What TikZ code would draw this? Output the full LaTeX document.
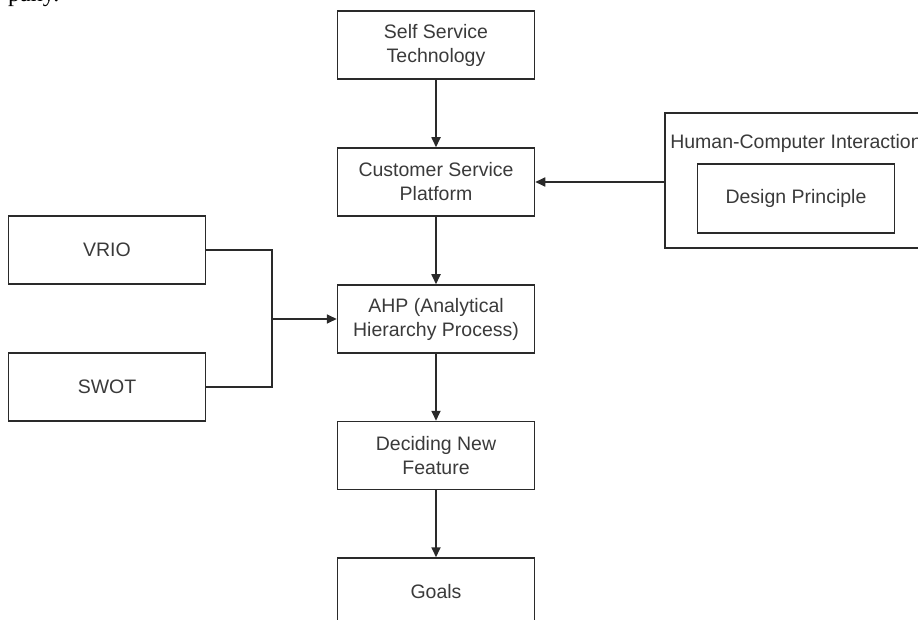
\documentclass[tikz,border=0pt]{standalone}
\usepackage{fontspec}
\setmainfont{Liberation Sans}
\newfontfamily\fragfont{Liberation Serif}
\usetikzlibrary{arrows.meta}
\definecolor{linegray}{HTML}{2A2A2A}
\definecolor{textgray}{HTML}{3A3A3A}
\begin{document}
\begin{tikzpicture}[x=1pt,y=-1pt,
  box/.style={draw=linegray, line width=1.5pt, minimum width=197pt, minimum height=68pt,
    inner sep=0pt, align=center, font=\fontsize{19.5}{24}\selectfont, text=textgray},
  conn/.style={draw=linegray, line width=1.7pt},
  arr/.style={conn, -{Triangle[length=10pt,width=9pt]}}]
\path[use as bounding box] (0,0) rectangle (918,620);
\clip (0,0) rectangle (918,620);
\node[anchor=base west, inner sep=0pt, font=\fragfont\fontsize{24}{28}\selectfont] (frag) at (8,2) {pany.};
\node[box] (sst) at (436,45) {Self Service\\Technology};
\node[box] (csp) at (436,182) {Customer Service\\Platform};
\node[box] (ahp) at (436,319) {AHP (Analytical\\Hierarchy Process)};
\node[box] (dnf) at (436,455.5) {Deciding New\\Feature};
\node[box] (goals) at (436,592) {Goals};
\node[box] (vrio) at (107,250) {VRIO};
\node[box] (swot) at (107,387) {SWOT};
\node[draw=linegray, line width=1.5pt, minimum width=262pt, minimum height=135pt, inner sep=0pt] (hci) at (796,180.5) {};
\node[inner sep=0pt, font=\fontsize{19.5}{24}\selectfont, text=textgray] (hcilabel) at (796,143) {Human-Computer Interaction};
\node[box, minimum height=69pt] (dp) at (796,198.5) {Design Principle};
\draw[arr] (sst) -- (csp);
\draw[arr] (csp) -- (ahp);
\draw[arr] (ahp) -- (dnf);
\draw[arr] (dnf) -- (goals);
\draw[arr] (hci.west |- csp.east) -- (csp.east);
\coordinate (join) at (272,319);
\draw[conn] (vrio.east) -| (join);
\draw[conn] (swot.east) -| (join);
\draw[arr] (join) -- (ahp.west);
\end{tikzpicture}
\end{document}
